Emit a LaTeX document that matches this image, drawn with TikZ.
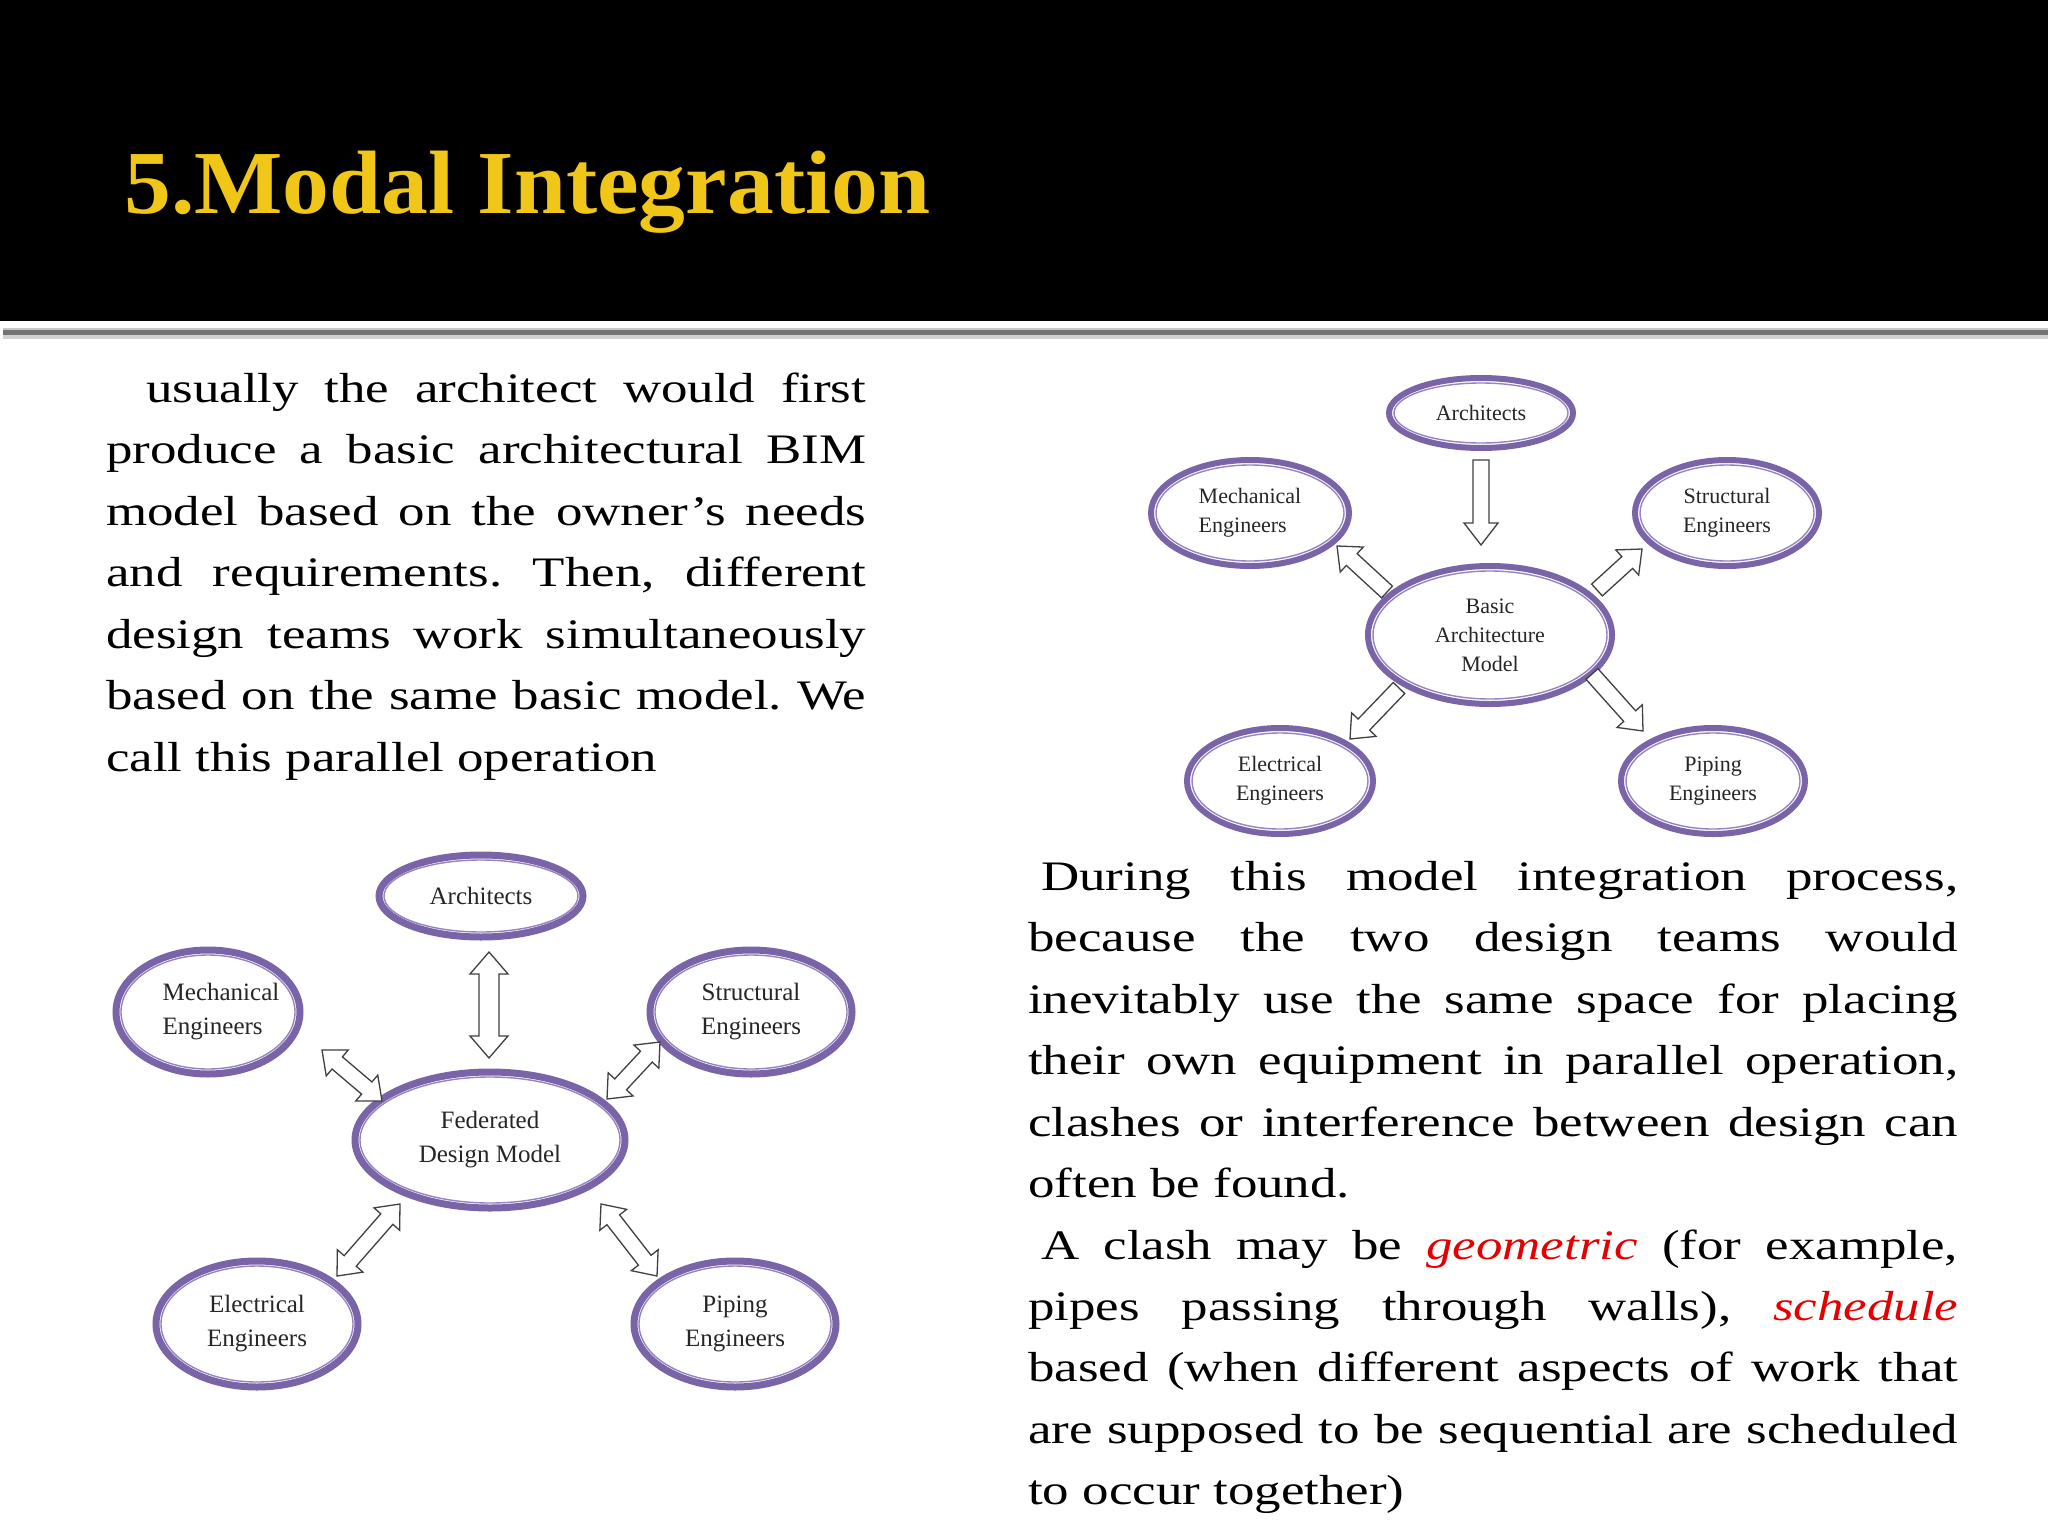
\documentclass[tikz,border=0pt]{standalone}
\usepackage{fontspec}
\setmainfont{Liberation Serif}
\newfontfamily\bodyfont[FakeStretch=1.26]{Liberation Serif}
\newfontfamily\titlefont[FakeStretch=1.04]{Liberation Serif}
\usetikzlibrary{shapes.geometric,calc}
\definecolor{purp}{RGB}{122,100,168}
\definecolor{purpin}{RGB}{150,130,192}
\definecolor{gold}{RGB}{240,198,24}
\definecolor{clashred}{RGB}{228,0,0}
\frenchspacing
\tikzset{
  bodyline/.style={anchor=base west, inner sep=0pt, font=\bodyfont\fontsize{42}{50}\selectfont},
  ovalTR/.style={ellipse, draw=purp, line width=6pt, inner sep=0pt, align=center, text=black!85, font=\fontsize{22}{29}\selectfont},
  ovalBL/.style={ellipse, draw=purp, line width=7pt, inner sep=0pt, align=center, text=black!85, font=\fontsize{25}{34}\selectfont},
  blockarrow/.style={draw=black!75, fill=white, line width=1.3pt, line join=miter},
}
% name, x, y, rx, ry, style, text
\newcommand\ovalnode[7]{%
  \node[#6, minimum width=#4*2pt-6pt, minimum height=#5*2pt-6pt] (#1) at (#2,#3) {#7};
  \draw[purpin, line width=1.4pt] (#1.center) ellipse [x radius=#4pt-8pt, y radius=#5pt-8pt];
}
% single block arrow: tail, head, half shaft, half head, head length
\newcommand\sarr[5]{%
  \path ($(#2)!#5!(#1)$) coordinate (hb);
  \draw[blockarrow] ($(#1)!#3!90:(#2)$) -- ($(hb)!#3!-90:(#1)$) -- ($(hb)!#4!-90:(#1)$) -- (#2)
    -- ($(hb)!#4!90:(#1)$) -- ($(hb)!#3!90:(#1)$) -- ($(#1)!#3!-90:(#2)$) -- cycle;
}
% double block arrow
\newcommand\darr[5]{%
  \path ($(#1)!#5!(#2)$) coordinate (hb1);
  \path ($(#2)!#5!(#1)$) coordinate (hb2);
  \draw[blockarrow] (#1) -- ($(hb1)!#4!90:(#2)$) -- ($(hb1)!#3!90:(#2)$) -- ($(hb2)!#3!-90:(#1)$)
    -- ($(hb2)!#4!-90:(#1)$) -- (#2) -- ($(hb2)!#4!90:(#1)$) -- ($(hb2)!#3!90:(#1)$)
    -- ($(hb1)!#3!-90:(#2)$) -- ($(hb1)!#4!-90:(#2)$) -- cycle;
}
\begin{document}
\begin{tikzpicture}[x=1pt,y=-1pt]
\useasboundingbox (0,0) rectangle (2048,1536);
\fill[white] (0,0) rectangle (2048,1536);
% header
\fill[black] (0,0) rectangle (2048,321);
\fill[black!22] (3,328) rectangle (2048,330);
\fill[black!55] (3,330) rectangle (2048,335);
\fill[black!18] (3,335) rectangle (2048,339);
\node[anchor=base west, inner sep=0pt, text=gold, font=\titlefont\bfseries\fontsize{90}{100}\selectfont] (title) at (124,213) {5.Modal Integration};

% left text
\node[bodyline] (l1) at (146,402) {\makebox[720pt][s]{usually the architect would first}};
\node[bodyline] (l2) at (106,463.5) {\makebox[760pt][s]{produce a basic architectural BIM}};
\node[bodyline] (l3) at (106,525) {\makebox[760pt][s]{model based on the owner’s needs}};
\node[bodyline] (l4) at (106,586) {\makebox[760pt][s]{and requirements. Then, different}};
\node[bodyline] (l5) at (106,648) {\makebox[760pt][s]{design teams work simultaneously}};
\node[bodyline] (l6) at (106,709) {\makebox[760pt][s]{based on the same basic model. We}};
\node[bodyline] (l7) at (106,771) {call this parallel operation};

% right text
\node[bodyline] (r1) at (1041,890) {\makebox[917pt][s]{During this model integration process,}};
\node[bodyline] (r2) at (1028,951) {\makebox[930pt][s]{because the two design teams would}};
\node[bodyline] (r3) at (1028,1013) {\makebox[930pt][s]{inevitably use the same space for placing}};
\node[bodyline] (r4) at (1028,1074) {\makebox[930pt][s]{their own equipment in parallel operation,}};
\node[bodyline] (r5) at (1028,1136) {\makebox[930pt][s]{clashes or interference between design can}};
\node[bodyline] (r6) at (1028,1197) {often be found.};
\node[bodyline] (r7) at (1041,1259) {\makebox[917pt][s]{A clash may be {\color{clashred}\itshape geometric} (for example,}};
\node[bodyline] (r8) at (1028,1320) {\makebox[930pt][s]{pipes passing through walls), {\color{clashred}\itshape schedule}}};
\node[bodyline] (r9) at (1028,1381) {\makebox[930pt][s]{based (when different aspects of work that}};
\node[bodyline] (r10) at (1028,1443) {\makebox[930pt][s]{are supposed to be sequential are scheduled}};
\node[bodyline] (r11) at (1028,1504) {to occur together)};

% top-right diagram
\ovalnode{tarch}{1481}{413}{95}{38}{ovalTR}{Architects}
\ovalnode{tmech}{1250}{513}{102}{56}{ovalTR, align=left}{Mechanical\\Engineers}
\ovalnode{tstru}{1727}{513}{95}{56}{ovalTR}{Structural\\Engineers}
\ovalnode{tbasic}{1490}{635}{125}{72}{ovalTR}{Basic\\Architecture\\Model}
\ovalnode{telec}{1280}{781}{96}{56}{ovalTR}{Electrical\\Engineers}
\ovalnode{tpip}{1713}{781}{95}{56}{ovalTR}{Piping\\Engineers}

\coordinate (ta1) at (1481,460); \coordinate (ta2) at (1481,545);
\coordinate (tm1) at (1387,592); \coordinate (tm2) at (1337,546);
\coordinate (ts1) at (1597,590); \coordinate (ts2) at (1642,549);
\coordinate (te1) at (1399,688); \coordinate (te2) at (1350,739);
\coordinate (tp1) at (1592,674); \coordinate (tp2) at (1643,731);
\sarr{ta1}{ta2}{8pt}{17pt}{22pt}
\sarr{tm1}{tm2}{8pt}{17pt}{20pt}
\sarr{ts1}{ts2}{8pt}{17pt}{20pt}
\sarr{te1}{te2}{8pt}{17pt}{20pt}
\sarr{tp1}{tp2}{8pt}{17pt}{20pt}

% bottom-left diagram
\ovalnode{barch}{481}{896}{105}{44}{ovalBL}{Architects}
\ovalnode{bmech}{208}{1012}{95}{65}{ovalBL}{}
\node[font=\fontsize{25}{34}\selectfont, text=black!85, align=left, inner sep=0pt] (bmecht) at (221,1012) {Mechanical\\Engineers};
\ovalnode{bstru}{751}{1012}{104}{65}{ovalBL}{Structural\\Engineers}
\ovalnode{bfed}{490}{1140}{138}{71}{ovalBL}{Federated\\Design Model}
\ovalnode{belec}{257}{1324}{104}{66}{ovalBL}{Electrical\\Engineers}
\ovalnode{bpip}{735}{1324}{104}{66}{ovalBL}{Piping\\Engineers}

\coordinate (ba1) at (489,952); \coordinate (ba2) at (489,1058);
\coordinate (bm1) at (322,1050); \coordinate (bm2) at (382,1101);
\coordinate (bs1) at (660,1042); \coordinate (bs2) at (607,1099);
\coordinate (be1) at (337,1276); \coordinate (be2) at (400,1204);
\coordinate (bp1) at (601,1204); \coordinate (bp2) at (657,1276);
\darr{ba1}{ba2}{10pt}{19pt}{22pt}
\darr{bm1}{bm2}{8pt}{17pt}{20pt}
\darr{bs1}{bs2}{8pt}{17pt}{20pt}
\darr{be1}{be2}{8pt}{17pt}{20pt}
\darr{bp1}{bp2}{8pt}{17pt}{20pt}
\end{tikzpicture}
\end{document}
